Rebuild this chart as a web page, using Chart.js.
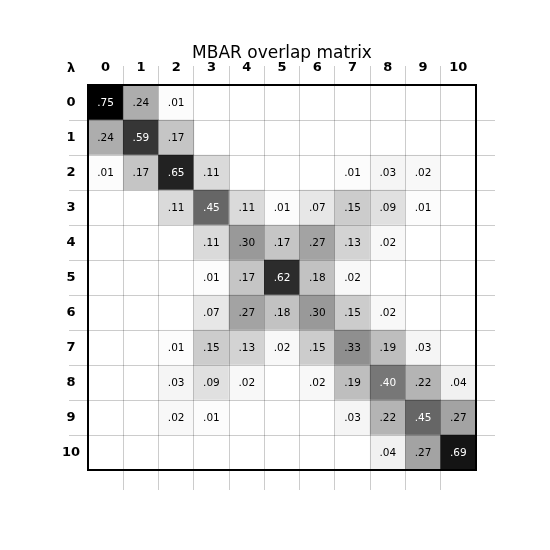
<!DOCTYPE html>
<html><head><meta charset="utf-8">
<script src="https://cdn.jsdelivr.net/npm/chart.js@4/dist/chart.umd.min.js"></script>
<style>html,body{margin:0;padding:0;background:#fff}</style>
</head><body>
<canvas id="c" width="550" height="550"></canvas>
<script>
const lambdas = ['0','1','2','3','4','5','6','7','8','9','10'];
const row0  = [0.75,0.24,0.01,0,0,0,0,0,0,0,0];
const row1  = [0.24,0.59,0.17,0,0,0,0,0,0,0,0];
const row2  = [0.01,0.17,0.65,0.11,0,0,0,0.01,0.03,0.02,0];
const row3  = [0,0,0.11,0.45,0.11,0.01,0.07,0.15,0.09,0.01,0];
const row4  = [0,0,0,0.11,0.30,0.17,0.27,0.13,0.02,0,0];
const row5  = [0,0,0,0.01,0.17,0.62,0.18,0.02,0,0,0];
const row6  = [0,0,0,0.07,0.27,0.18,0.30,0.15,0.02,0,0];
const row7  = [0,0,0.01,0.15,0.13,0.02,0.15,0.33,0.19,0.03,0];
const row8  = [0,0,0.03,0.09,0.02,0,0.02,0.19,0.40,0.22,0.04];
const row9  = [0,0,0.02,0.01,0,0,0,0.03,0.22,0.45,0.27];
const row10 = [0,0,0,0,0,0,0,0,0.04,0.27,0.69];
const matrix = [row0,row1,row2,row3,row4,row5,row6,row7,row8,row9,row10];

const vmax = 0.75;
const cells = [];
matrix.forEach((row, i) => row.forEach((v, j) => {
  if (v > 0) cells.push({x: lambdas[j], y: [i - 0.5, i + 0.5], v: v});
}));
const grayOf = v => { const g = Math.round(255 * (1 - Math.min(v / vmax, 1))); return `rgb(${g},${g},${g})`; };

const FONT = 'DejaVu Sans';
const gridColor = ctx => (ctx.type !== 'tick' || ctx.index === 0) ? 'rgba(0,0,0,0)' : 'rgba(0,0,0,0.2)';
const tickFont = {family: FONT, size: 13, weight: 'bold'};

const valueLabels = {
  id: 'valueLabels',
  afterDatasetsDraw(chart) {
    const ctx = chart.ctx;
    const meta = chart.getDatasetMeta(0);
    ctx.save();
    ctx.font = `10.5px "${FONT}"`;
    ctx.textAlign = 'center';
    ctx.textBaseline = 'middle';
    meta.data.forEach((bar, k) => {
      const v = cells[k].v;
      ctx.fillStyle = v >= vmax / 2 ? '#fff' : '#000';
      const y = (bar.y + bar.base) / 2;
      ctx.fillText(v.toFixed(2).replace(/^0/, ''), bar.x, y + 0.5);
    });
    ctx.restore();
  },
  afterDraw(chart) {
    const ctx = chart.ctx, a = chart.chartArea;
    ctx.save();
    ctx.font = `bold 13px "${FONT}"`;
    ctx.fillStyle = '#000';
    ctx.textAlign = 'center';
    ctx.textBaseline = 'middle';
    ctx.fillText('λ', a.left - 17, a.top - 16.5);
    ctx.restore();
  }
};

new Chart(document.getElementById('c'), {
  type: 'bar',
  data: {
    labels: lambdas,
    datasets: [{
      data: cells,
      backgroundColor: cells.map(c => grayOf(c.v)),
      borderWidth: 0,
      barPercentage: 1,
      categoryPercentage: 1,
      xAxisID: 'x',
      yAxisID: 'y'
    }]
  },
  options: {
    responsive: false,
    animation: false,
    devicePixelRatio: 1,
    layout: {padding: {top: 31.6, left: 40, right: 55, bottom: 60}},
    plugins: {
      legend: {display: false},
      tooltip: {enabled: false},
      title: {
        display: true, text: 'MBAR overlap matrix', fullSize: false,
        font: {family: FONT, size: 17, weight: 'normal'}, color: '#000',
        padding: {top: 12, bottom: -3}
      }
    },
    scales: {
      x: {
        type: 'category', position: 'top', labels: lambdas, offset: true,
        grid: {offset: true, color: gridColor, lineWidth: 1, tickLength: 19, z: 1},
        border: {display: true, color: '#000', width: 2, z: 2},
        ticks: {font: tickFont, color: '#000', padding: -9, maxRotation: 0, autoSkip: false},
        afterFit(s) { s.height = 24; }
      },
      x2: {
        type: 'category', position: 'bottom', labels: lambdas, offset: true,
        grid: {offset: true, color: gridColor, drawOnChartArea: false, tickLength: 20},
        border: {display: true, color: '#000', width: 2, z: 2},
        ticks: {display: false},
        afterFit(s) { s.height = 20; }
      },
      yl: {
        type: 'category', position: 'left', labels: lambdas, offset: true,
        grid: {offset: true, color: gridColor, lineWidth: 1, tickLength: 19, z: 1},
        border: {display: true, color: '#000', width: 2, z: 2},
        ticks: {font: tickFont, color: '#000', padding: -11, crossAlign: 'center', autoSkip: false},
        afterFit(s) { s.width = 48; }
      },
      yr: {
        type: 'category', position: 'right', labels: lambdas, offset: true,
        grid: {offset: true, color: gridColor, drawOnChartArea: false, tickLength: 19},
        border: {display: true, color: '#000', width: 2, z: 2},
        ticks: {display: false},
        afterFit(s) { s.width = 19; }
      },
      y: {type: 'linear', min: -0.5, max: 10.5, reverse: true, display: false}
    }
  },
  plugins: [valueLabels]
});
</script>
</body></html>
